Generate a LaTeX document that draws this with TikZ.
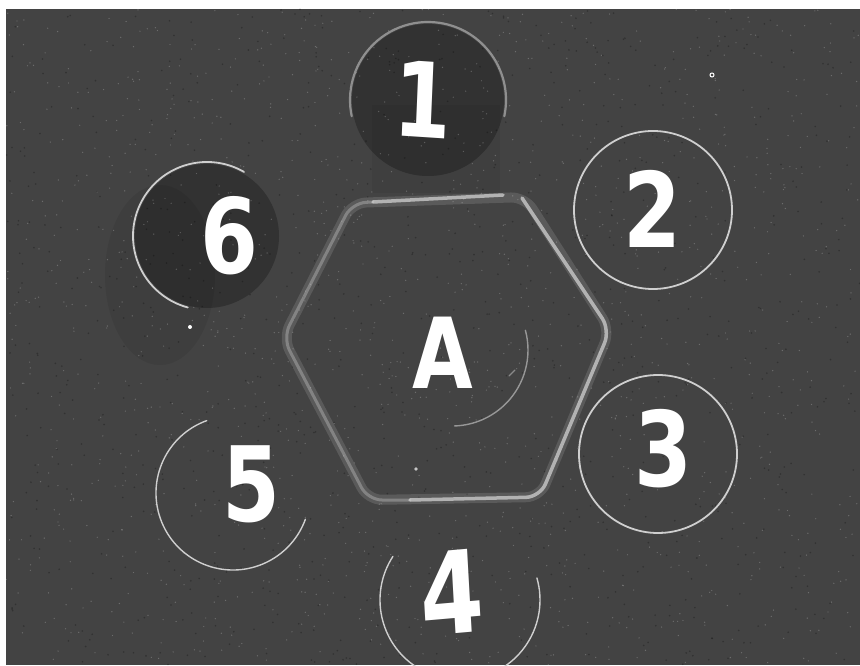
\documentclass[tikz,border=0pt]{standalone}
\usepackage{fontspec}
\setmainfont{DejaVu Sans}
\definecolor{board}{HTML}{434343}
\definecolor{chalkc}{HTML}{CFCFCF}
\definecolor{hexc}{HTML}{D8D8D8}
\begin{document}
\begin{tikzpicture}[x=1pt,y=1pt,
  chalk/.style={draw=chalkc, line width=1.8pt, line cap=round},
  faintchalk/.style={draw=chalkc, line width=2.2pt, opacity=0.55, line cap=round},
  digit/.style={text=white, inner sep=0pt, xscale=0.8, font=\bfseries\fontsize{104}{104}\selectfont},
  hexglow/.style={draw=hexc, line width=10pt, opacity=0.16, rounded corners=14pt, line cap=round},
  hexcore/.style={draw=hexc, line width=3.5pt, opacity=0.7, rounded corners=14pt, line cap=round},
  hexfaint/.style={draw=hexc, line width=3pt, opacity=0.33, rounded corners=14pt, line cap=round},
  shade/.style={fill=black, opacity=0.25}]
\useasboundingbox (0,0) rectangle (860,665);
\fill[white] (0,0) rectangle (860,665);
\fill[board] (6,0) rectangle (860,656);
% darker patches of the board
\fill[shade] (428,565) circle (76);
\fill[black, opacity=0.06] (372,560) rectangle (500,472);
\fill[shade] (207,429) circle (72);
\fill[black, opacity=0.07] (160,390) ellipse [x radius=55, y radius=90];
% board grain
\pgfmathsetseed{7}
\foreach \i in {1,...,1400}{
  \pgfmathsetmacro\px{6+854*rnd}
  \pgfmathsetmacro\py{656*rnd}
  \fill[white, opacity=0.22] (\px,\py) circle (0.7);
}
\foreach \i in {1,...,900}{
  \pgfmathsetmacro\px{6+854*rnd}
  \pgfmathsetmacro\py{656*rnd}
  \fill[black, opacity=0.25] (\px,\py) circle (0.9);
}
% hexagon
\coordinate (hL) at (283,327);
\coordinate (hTL) at (352,462);
\coordinate (hTR) at (525,468);
\coordinate (hR) at (610,335);
\coordinate (hBR) at (540,168);
\coordinate (hBL) at (368,165);
\draw[hexglow] (hL) -- (hTL) -- (hTR) -- (hR) -- (hBR) -- (hBL) -- cycle;
\draw[hexcore] (373,463) -- (503,470);
\draw[hexcore] (522,467) -- (hR) -- (hBR) -- (410,165);
\draw[hexfaint] (410,165) -- (hBL) -- (hL) -- (hTL) -- (373,463);
% circles
\draw[faintchalk] (428,565) ++(-12:78) arc[start angle=-12, end angle=192, radius=78];
\draw[chalk] (207,429) ++(60:74) arc[start angle=60, end angle=255, radius=74];
\draw[chalk] (653,455) circle (79);
\draw[chalk] (658,211) circle (79);
\draw[chalk, line width=1.4pt] (233,172) ++(110:77) arc[start angle=110, end angle=340, radius=77];
\draw[chalk, line width=1.4pt] (460,65) ++(147:80) arc[start angle=147, end angle=376, radius=80];
\draw[chalk, line width=1.4pt, opacity=0.6] (452,315) ++(15:76) arc[start angle=15, end angle=-88, radius=76];
\draw[chalk, line width=1.2pt, opacity=0.5] (509,289) -- (515,295);
% small chalk specks
\fill[white] (190,338) circle (2);
\draw[white, line width=1pt] (712,590) circle (2);
\fill[white, opacity=0.7] (416,196) circle (1.8);
% labels
\node[digit, rotate=-3] (n1) at (423,565) {1};
\node[digit] (n6) at (229,429) {6};
\node[digit] (n2) at (652,456) {2};
\node[digit] (n3) at (663,216) {3};
\node[digit] (n5) at (251,181) {5};
\node[digit, font=\bfseries\fontsize{114}{114}\selectfont, rotate=4] (n4) at (452,73) {4};
\node[digit, font=\bfseries\fontsize{98}{98}\selectfont] (nA) at (443,312) {A};
\end{tikzpicture}
\end{document}
